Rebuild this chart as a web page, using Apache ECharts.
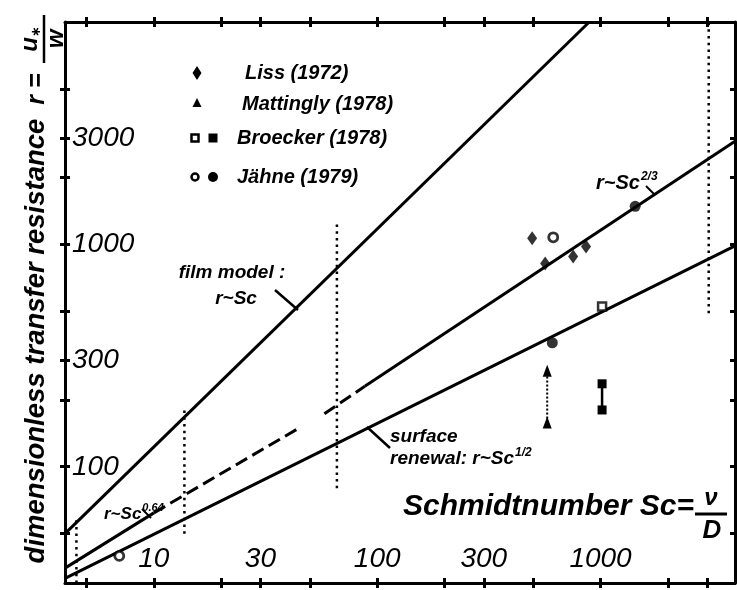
<!DOCTYPE html>
<html><head><meta charset="utf-8">
<script src="https://cdn.jsdelivr.net/npm/echarts@6/dist/echarts.min.js"></script>
<style>html,body{margin:0;padding:0;background:#fff}#c{width:737px;height:590px}</style>
</head><body><div id="c"></div>
<script>
// ---- axis ticks / labels ----
const xTickValues = [5, 10, 20, 30, 50, 100, 200, 300, 500, 1000, 2000, 3000];
const xLabelValues = [10, 30, 100, 300, 1000];
const yTickValues = [50, 100, 200, 300, 500, 1000, 2000, 3000, 5000];
const yLabelValues = [100, 300, 1000, 3000];

// ---- model lines (Schmidt number, resistance) ----
const filmSc = [4, 890],        filmR = [50, 10000];
const smoothSolidSc = [88, 4000], smoothSolidR = [230, 2911];
const smoothDashSc = [58, 88],   smoothDashR = [173, 230];
const wavySolidSc = [4, 10],     wavySolidR = [35, 62];
const wavyDashSc = [10, 44],     wavyDashR = [62, 148];
const renewalSc = [4, 4000],     renewalR = [31.5, 985];

// ---- dotted range markers ----
const range1Sc = [4.5, 4.5],   range1R = [30, 60];
const range2Sc = [13.7, 13.7], range2R = [50, 180];
const range3Sc = [66, 66],     range3R = [80, 1250];
const range4Sc = [3050, 3050], range4R = [490, 10000];

// ---- measurements ----
const lissSc = [494, 565, 754, 861],  lissR = [1064, 820, 881, 978];
const mattinglySc = [577, 577],       mattinglyR = [158, 270];
const broeckerOpenSc = [1016],        broeckerOpenR = [525];
const broeckerFilledSc = [1016, 1016], broeckerFilledR = [180, 236];
const jahneOpenSc = [7.0, 614],       jahneOpenR = [39.7, 1076];
const jahneFilledSc = [608, 1429],    jahneFilledR = [361, 1483];

const pairs = (xs, ys) => xs.map((x, i) => [x, ys[i]]);

const TXT = "'Liberation Sans','DejaVu Sans',sans-serif";
const fmt = (v) => String(Math.round(v));

function xAx(pos, inside, main) {
  return {
    type: 'log', logBase: 10, min: 4, max: 4000, position: pos, gridIndex: 0,
    axisLine: { show: main, onZero: false, lineStyle: { color: '#000', width: 3 } },
    axisTick: { show: true, inside: inside, length: 5, customValues: xTickValues,
      lineStyle: { color: '#000', width: 3 } },
    axisLabel: { show: main && pos === 'bottom', inside: true, margin: 10, customValues: xLabelValues,
      formatter: fmt, color: '#000', fontFamily: TXT, fontStyle: 'italic', fontWeight: 'normal', fontSize: 28 },
    splitLine: { show: false }, minorTick: { show: false }, minorSplitLine: { show: false }
  };
}
function yAx(pos, inside, main) {
  return {
    type: 'log', logBase: 10, min: 30, max: 10000, position: pos, gridIndex: 0,
    axisLine: { show: main, onZero: false, lineStyle: { color: '#000', width: 3 } },
    axisTick: { show: true, inside: inside, length: 5, customValues: yTickValues,
      lineStyle: { color: '#000', width: 3 } },
    axisLabel: { show: main && pos === 'left', inside: true, margin: 7, customValues: yLabelValues,
      formatter: fmt, color: '#000', fontFamily: TXT, fontStyle: 'italic', fontWeight: 'normal', fontSize: 28 },
    splitLine: { show: false }, minorTick: { show: false }, minorSplitLine: { show: false }
  };
}

function lineSeries(xs, ys, type) {
  return {
    type: 'line', xAxisIndex: 0, yAxisIndex: 0, data: pairs(xs, ys), symbol: 'none',
    silent: true, animation: false, z: 3,
    lineStyle: { color: '#000', width: 3, type: type || 'solid' }
  };
}
function dotted(xs, ys) {
  return {
    type: 'line', xAxisIndex: 0, yAxisIndex: 0, data: pairs(xs, ys), symbol: 'none',
    silent: true, animation: false, z: 2,
    lineStyle: { color: '#000', width: 2.5, type: [2.5, 4.2], cap: 'butt' }
  };
}

const series = [
  lineSeries(filmSc, filmR),
  lineSeries(smoothSolidSc, smoothSolidR),
  lineSeries(smoothDashSc, smoothDashR, [13, 6]),
  lineSeries(wavySolidSc, wavySolidR),
  lineSeries(wavyDashSc, wavyDashR, [13, 6]),
  lineSeries(renewalSc, renewalR),
  dotted(range1Sc, range1R), dotted(range2Sc, range2R),
  dotted(range3Sc, range3R), dotted(range4Sc, range4R),
  { name: 'Liss (1972)', type: 'scatter', data: pairs(lissSc, lissR), symbol: 'diamond',
    symbolSize: [10, 14], itemStyle: { color: '#000' }, z: 5, animation: false },
  { name: 'Mattingly (1978)', type: 'line', data: pairs(mattinglySc, mattinglyR), symbol: 'triangle',
    symbolSize: [9, 12], showSymbol: true, itemStyle: { color: '#000' },
    lineStyle: { color: '#000', width: 2, type: [2, 2] }, z: 5, animation: false },
  { name: 'Broecker (1978)', type: 'scatter', data: pairs(broeckerOpenSc, broeckerOpenR), symbol: 'rect',
    symbolSize: 8, itemStyle: { color: '#fff', borderColor: '#000', borderWidth: 2.5 }, z: 5, animation: false },
  { name: 'Broecker (1978) b', type: 'line', data: pairs(broeckerFilledSc, broeckerFilledR), symbol: 'rect',
    symbolSize: [9, 9], showSymbol: true, itemStyle: { color: '#000' },
    lineStyle: { color: '#000', width: 2.5 }, z: 5, animation: false },
  { name: 'Jähne (1979)', type: 'scatter', data: pairs(jahneOpenSc, jahneOpenR), symbol: 'circle',
    symbolSize: 9, itemStyle: { color: '#fff', borderColor: '#000', borderWidth: 2.8 }, z: 5, animation: false },
  { name: 'Jähne (1979) b', type: 'scatter', data: pairs(jahneFilledSc, jahneFilledR), symbol: 'circle',
    symbolSize: 11, itemStyle: { color: '#000' }, z: 5, animation: false }
];

const bi = (size) => 'italic bold ' + size + 'px ' + TXT;
function txt(x, y, text, size, align, extra) {
  return Object.assign({ type: 'text', x: x, y: y, silent: true, z: 10,
    style: { text: text, font: bi(size), fill: '#000', textAlign: align || 'left', textVerticalAlign: 'middle' } }, extra || {});
}
function seg(x1, y1, x2, y2, w) {
  return { type: 'line', silent: true, z: 10, shape: { x1: x1, y1: y1, x2: x2, y2: y2 },
    style: { stroke: '#000', lineWidth: w || 2.5 } };
}
function supText(x, y, base, sup, size) {
  return { type: 'text', x: x, y: y, silent: true, z: 10,
    style: { text: '{b|' + base + '}{s|' + sup + '}', textVerticalAlign: 'middle', fill: '#000',
      rich: { b: { font: bi(size), fill: '#000' },
              s: { font: bi(Math.round(size * 0.62)), fill: '#000', verticalAlign: 'top', padding: [0, 0, 12, 1] } } } };
}

const graphic = [
  // y-axis title
  txt(36, 341, 'dimensionless transfer resistance', 27.5, 'center', { rotation: Math.PI / 2 }),
  txt(37, 89, 'r =', 25, 'center', { rotation: Math.PI / 2 }),
  seg(44, 63, 44, 15, 2.5),
  { type: 'text', x: 30, y: 39, rotation: Math.PI / 2, silent: true, z: 10,
    style: { text: '{u|u}{s|∗}', textAlign: 'center', textVerticalAlign: 'middle', fill: '#000',
      rich: { u: { font: bi(24) }, s: { font: bi(13), padding: [12, 0, 0, 0] } } } },
  txt(56, 39, 'w', 24, 'center', { rotation: Math.PI / 2 }),
  // x-axis title
  txt(403, 507, 'Schmidtnumber Sc=', 30, 'left'),
  txt(711, 498, 'ν', 24, 'center'),
  seg(695, 514, 727, 514, 3),
  txt(712, 531, 'D', 26, 'center'),
  // legend
  { type: 'polygon', shape: { points: [[197, 66], [201.5, 73], [197, 80], [192.5, 73]] }, style: { fill: '#000' }, silent: true },
  txt(245, 73, 'Liss (1972)', 20),
  { type: 'polygon', shape: { points: [[197, 98], [201.5, 107], [192.5, 107]] }, style: { fill: '#000' }, silent: true },
  txt(242, 104, 'Mattingly (1978)', 20),
  { type: 'rect', shape: { x: 191.5, y: 134.5, width: 7, height: 7 }, style: { fill: '#fff', stroke: '#000', lineWidth: 2.5 }, silent: true },
  { type: 'rect', shape: { x: 208.5, y: 133.5, width: 9, height: 9 }, style: { fill: '#000' }, silent: true },
  txt(237, 138, 'Broecker (1978)', 20),
  { type: 'circle', shape: { cx: 195, cy: 177, r: 3.5 }, style: { fill: '#fff', stroke: '#000', lineWidth: 2.5 }, silent: true },
  { type: 'circle', shape: { cx: 213, cy: 177, r: 5 }, style: { fill: '#000' }, silent: true },
  txt(237, 177, 'Jähne (1979)', 20),
  // annotations
  txt(232, 273, 'film model :', 19, 'center'),
  txt(236, 299, 'r~Sc', 19, 'center'),
  seg(275, 290, 298, 310, 2.5),
  supText(104, 514, 'r~Sc', '0.64', 17),
  seg(142, 509, 151, 518, 2),
  supText(596, 183, 'r~Sc', '2/3', 20),
  seg(646, 186, 654, 194, 2),
  txt(390, 437, 'surface', 19),
  supText(390, 459, 'renewal: r~Sc', '1/2', 19),
  seg(367, 427, 390, 448, 2.5)
];

const chart = echarts.init(document.getElementById('c'), null, { renderer: 'canvas' });
chart.setOption({
  animation: false,
  backgroundColor: '#fff',
  grid: { left: 65, right: 2, top: 22, bottom: 7, containLabel: false },
  xAxis: [xAx('bottom', true, true), xAx('bottom', false, false), xAx('top', true, true), xAx('top', false, false)],
  yAxis: [yAx('left', true, true), yAx('left', false, false), yAx('right', true, true), yAx('right', false, false)],
  series: series,
  graphic: graphic
});
</script>
</body></html>
